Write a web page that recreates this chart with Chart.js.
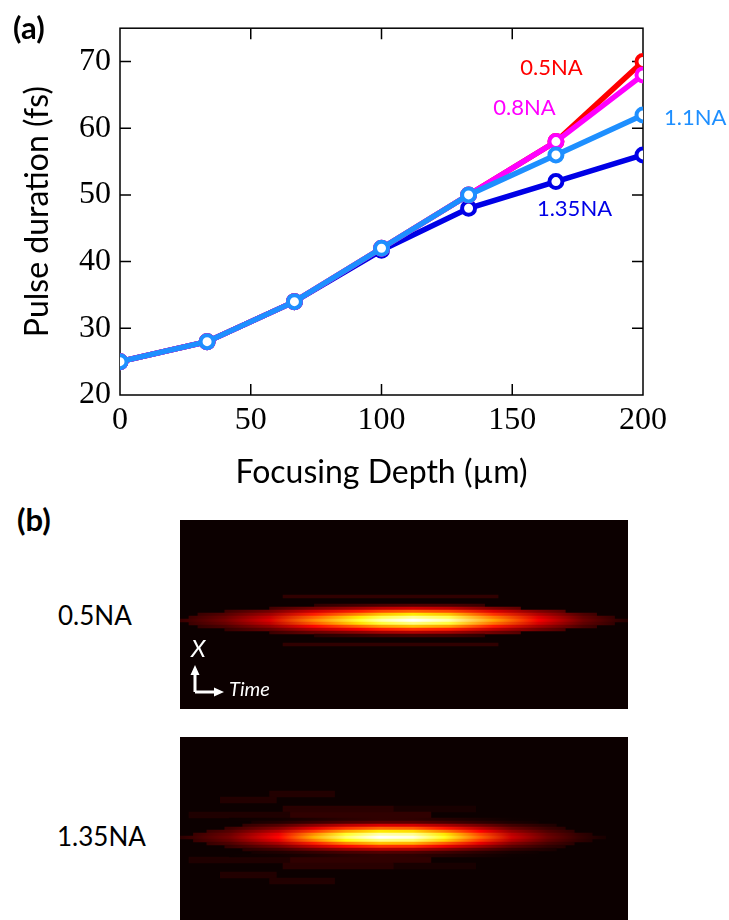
<!DOCTYPE html>
<html>
<head>
<meta charset="utf-8">
<script src="https://cdn.jsdelivr.net/npm/chart.js@4.4.1/dist/chart.umd.min.js"></script>
<style>
html, body { margin: 0; padding: 0; background: #fff; }
#page { position: relative; width: 729px; height: 920px; overflow: hidden; font-family: Lato, 'Open Sans', sans-serif; }
canvas { position: absolute; }
.lbl { position: absolute; color: #000; white-space: nowrap; line-height: 1; }
</style>
</head>
<body>
<div id="page">
  <canvas id="depthChart" width="729" height="492" style="left:0;top:0"></canvas>
  <canvas id="pulse05" width="448" height="189" style="left:180px;top:520px"></canvas>
  <canvas id="pulse135" width="448" height="183" style="left:180px;top:737px"></canvas>
  <div class="lbl" style="left:13px;top:12px;font-size:31px;font-weight:bold">(a)</div>
  <div class="lbl" style="left:17px;top:504px;font-size:31px;font-weight:bold">(b)</div>
  <div class="lbl" style="left:58px;top:602px;font-size:26px">0.5NA</div>
  <div class="lbl" style="left:57px;top:823px;font-size:26px">1.35NA</div>
</div>
<script>
// --- Panel (a): pulse duration vs focusing depth ---
const depths = [0, 33.3, 66.7, 100, 133.3, 166.7, 200];
const na05 = [25, 28, 34, 42, 50, 58, 70];
const na08 = [25, 28, 34, 42, 50, 58, 68];
const na11 = [25, 28, 34, 42, 50, 56, 62];
const na135 = [25, 28, 34, 41.7, 48, 52, 56];
const xTicks = [0, 50, 100, 150, 200];
const yTicks = [20, 30, 40, 50, 60, 70];

const naNames = ['0.5NA', '0.8NA', '1.1NA', '1.35NA'];
const naColors = ['#ff0000', '#ff00ff', '#1e8fff', '#0000e6'];
const naSeries = [na05, na08, na11, na135];
const naOrder = [3, 2, 1, 4]; // 1.35NA underneath, 1.1NA on top
const naLabelX = [165, 154.7, 220, 173.8];
const naLabelY = [69, 63, 61.6, 47.9];

// --- Panel (b): pulse intensity maps (3 px rows, offsets from pulse centre) ---
const rows05 = [-5, -4, -3, -2, -1, 0, 1, 2, 3, 4, 5];
const peak05 = [0.12, 0.3, 0.52, 0.72, 0.9, 1.0, 0.88, 0.66, 0.45, 0.26, 0.1];
const start05 = [0.3, 0.2, 0.1, 0.04, 0.02, 0, 0.02, 0.04, 0.1, 0.2, 0.3];
const end05 = [0.68, 0.76, 0.86, 0.93, 0.97, 1, 0.97, 0.93, 0.86, 0.76, 0.68];
const lobeRows05 = [-8, 8];
const lobeStart05 = [0.23, 0.23];
const lobeEnd05 = [0.71, 0.71];
const lobePeak05 = [0.07, 0.07];
const profPos05 = [0, 0.1, 0.2, 0.3, 0.4, 0.45, 0.52, 0.6, 0.7, 0.8, 0.9, 1];
const profVal05 = [0.08, 0.17, 0.32, 0.58, 0.8, 0.92, 1.0, 0.92, 0.62, 0.36, 0.16, 0.05];

const rows135 = [-6, -5, -4, -3, -2, -1, 0, 1, 2, 3, 4, 5, 6];
const peak135 = [0.07, 0.13, 0.32, 0.52, 0.72, 0.92, 1.0, 0.88, 0.66, 0.45, 0.26, 0.12, 0.07];
const start135 = [0.11, 0.16, 0.14, 0.1, 0.06, 0.03, 0, 0.03, 0.06, 0.1, 0.14, 0.16, 0.11];
const end135 = [0.8, 0.8, 0.84, 0.86, 0.88, 0.92, 0.95, 0.92, 0.88, 0.86, 0.84, 0.8, 0.8];
const lobeRows135 = [-15, -14, -13, -12, -10, -10, -9, -9, -8, -8, -7, -7,
    7, 7, 8, 8, 9, 9, 10, 10, 12, 13, 14, 15];
const lobeStart135 = [0.2, 0.2, 0.09, 0.09, 0.23, 0.476, 0.23, 0.476, 0.02, 0.245, 0.02, 0.245,
    0.02, 0.245, 0.02, 0.245, 0.23, 0.476, 0.23, 0.476, 0.09, 0.09, 0.2, 0.2];
const lobeEnd135 = [0.345, 0.345, 0.215, 0.215, 0.476, 0.66, 0.476, 0.66, 0.245, 0.56, 0.245, 0.56,
    0.245, 0.56, 0.245, 0.56, 0.476, 0.66, 0.476, 0.66, 0.215, 0.215, 0.345, 0.345];
const lobePeak135 = [0.05, 0.05, 0.05, 0.05, 0.06, 0.035, 0.06, 0.035, 0.045, 0.07, 0.045, 0.07,
    0.045, 0.07, 0.045, 0.07, 0.06, 0.035, 0.06, 0.035, 0.05, 0.05, 0.05, 0.05];
const profPos135 = [0, 0.11, 0.22, 0.3, 0.37, 0.445, 0.52, 0.59, 0.67, 0.74, 0.82, 0.89, 0.94, 1];
const profVal135 = [0.06, 0.17, 0.38, 0.64, 0.86, 1.0, 0.97, 0.78, 0.52, 0.3, 0.16, 0.08, 0.04, 0.02];

const rowLabels05 = [];
for (let k = -33; k <= 29; k++) rowLabels05.push(String(k));
const rowLabels135 = [];
for (let k = -33; k <= 27; k++) rowLabels135.push(String(k));

const BG_LEVEL = 0.018;
const SANS = "Lato, 'Open Sans', sans-serif";

// "hot" colour map
function hot(v) {
    v = Math.max(BG_LEVEL, Math.min(1, v));
    const r = Math.min(1, v / 0.375);
    const g = Math.max(0, Math.min(1, (v - 0.375) / 0.375));
    const b = Math.max(0, Math.min(1, (v - 0.75) / 0.25));
    return `rgb(${Math.round(r * 255)},${Math.round(g * 255)},${Math.round(b * 255)})`;
}

// Frame with inward ticks on all four sides
const framePlugin = {
    id: 'frame',
    beforeDatasetsDraw(chart) {
        const { ctx, chartArea: a, scales: { x, y } } = chart;
        ctx.save();
        ctx.strokeStyle = '#000';
        ctx.lineWidth = 1.5;
        ctx.strokeRect(a.left, a.top, a.right - a.left, a.bottom - a.top);
        ctx.beginPath();
        xTicks.slice(1, -1).forEach(v => {
            const px = x.getPixelForValue(v);
            ctx.moveTo(px, a.bottom); ctx.lineTo(px, a.bottom - 11);
            ctx.moveTo(px, a.top); ctx.lineTo(px, a.top + 11);
        });
        yTicks.slice(1).forEach(v => {
            const py = y.getPixelForValue(v);
            ctx.moveTo(a.left, py); ctx.lineTo(a.left + 11, py);
            ctx.moveTo(a.right, py); ctx.lineTo(a.right - 11, py);
        });
        ctx.stroke();
        ctx.restore();
    }
};

// Series names next to the curves
const naLabelPlugin = {
    id: 'naLabels',
    afterDatasetsDraw(chart) {
        const { ctx, scales: { x, y } } = chart;
        ctx.save();
        ctx.font = `22px ${SANS}`;
        ctx.textAlign = 'center';
        ctx.textBaseline = 'middle';
        naNames.forEach((name, i) => {
            ctx.fillStyle = naColors[i];
            ctx.fillText(name, x.getPixelForValue(naLabelX[i]), y.getPixelForValue(naLabelY[i]));
        });
        ctx.restore();
    }
};

new Chart(document.getElementById('depthChart'), {
    type: 'line',
    data: {
        datasets: naSeries.map((vals, i) => ({
            label: naNames[i],
            data: depths.map((d, j) => ({ x: d, y: vals[j] })),
            borderColor: naColors[i],
            backgroundColor: '#fff',
            borderWidth: 5.5,
            pointRadius: 6.5,
            pointBorderWidth: 4,
            pointBorderColor: naColors[i],
            pointBackgroundColor: '#fff',
            tension: 0,
            order: naOrder[i]
        }))
    },
    options: {
        responsive: false,
        animation: false,
        layout: { padding: { top: 27, right: 86, left: 0, bottom: 0 } },
        plugins: { legend: { display: false }, tooltip: { enabled: false } },
        scales: {
            x: {
                type: 'linear', min: 0, max: 200,
                grid: { display: false, drawTicks: false },
                border: { display: false },
                ticks: { stepSize: 50, padding: 6, color: '#000', font: { family: 'Liberation Serif', size: 32 }, maxRotation: 0 },
                title: { display: true, text: 'Focusing Depth (µm)', color: '#000', font: { family: SANS, size: 32 }, padding: { top: 0, bottom: 0 } },
                afterFit(scale) { scale.height = 97; }
            },
            y: {
                type: 'linear', min: 20, max: 75,
                grid: { display: false, drawTicks: false },
                border: { display: false },
                ticks: { stepSize: 10, includeBounds: false, padding: 9, color: '#000', font: { family: 'Liberation Serif', size: 32 },
                    callback: v => (yTicks.includes(v) ? String(v) : '') },
                title: { display: true, text: 'Pulse duration (fs)', color: '#000', font: { family: SANS, size: 32 }, padding: { top: 18, bottom: 0 } },
                afterFit(scale) { scale.width = 120; }
            }
        }
    },
    plugins: [framePlugin, naLabelPlugin]
});

// --- Helper for the intensity maps ---
function buildRowData(labels, rows, starts, ends) {
    return labels.map(k => {
        const i = rows.indexOf(+k);
        return i < 0 ? null : [starts[i], ends[i]];
    });
}

// Spread lobes over as many datasets as needed so no row holds two spans in one dataset
function buildLobeDatasets(labels, rows, starts, ends, peaks) {
    const slots = [];
    rows.forEach((r, i) => {
        const idx = labels.indexOf(String(r));
        let slot = slots.find(s => s.data[idx] === null);
        if (!slot) {
            slot = { data: labels.map(() => null), colors: labels.map(() => hot(0)) };
            slots.push(slot);
        }
        slot.data[idx] = [starts[i], ends[i]];
        slot.colors[idx] = hot(peaks[i]);
    });
    return slots.map(s => ({
        data: s.data,
        backgroundColor: s.colors,
        borderWidth: 0,
        grouped: false,
        barPercentage: 1,
        categoryPercentage: 1,
        order: 1
    }));
}

function renderPulse(canvasId, labels, rows, peaks, starts, ends, lobes, profPos, profVal, overlay) {
    const bg = hot(0);
    const mainSet = {
        data: buildRowData(labels, rows, starts, ends),
        borderWidth: 0,
        grouped: false,
        barPercentage: 1,
        categoryPercentage: 1,
        order: 0,
        backgroundColor: c => {
            const chart = c.chart;
            const xs = chart.scales.x;
            if (!xs || !chart.chartArea || c.dataIndex === undefined) return bg;
            const i = rows.indexOf(+labels[c.dataIndex]);
            if (i < 0) return bg;
            const g = chart.ctx.createLinearGradient(xs.getPixelForValue(0), 0, xs.getPixelForValue(1), 0);
            profPos.forEach((p, j) => g.addColorStop(p, hot(peaks[i] * profVal[j])));
            return g;
        }
    };
    const backdrop = {
        id: 'backdrop',
        beforeDraw(chart) {
            const { ctx, chartArea: a } = chart;
            ctx.save();
            ctx.fillStyle = bg;
            ctx.fillRect(a.left, a.top, a.right - a.left, a.bottom - a.top);
            ctx.restore();
        }
    };
    const plugins = [backdrop];
    if (overlay) plugins.push(overlay);
    new Chart(document.getElementById(canvasId), {
        type: 'bar',
        data: { labels, datasets: [...lobes, mainSet] },
        options: {
            indexAxis: 'y',
            responsive: false,
            animation: false,
            layout: { padding: 0 },
            plugins: { legend: { display: false }, tooltip: { enabled: false } },
            scales: {
                x: { type: 'linear', min: 0, max: 1, display: false },
                y: { type: 'category', display: false }
            }
        },
        plugins
    });
}

// X / Time axes marker in the first map
const axesMarker = {
    id: 'axesMarker',
    afterDraw(chart) {
        const ctx = chart.ctx;
        ctx.save();
        ctx.fillStyle = '#fff';
        ctx.strokeStyle = '#fff';
        ctx.lineWidth = 3;
        ctx.beginPath();
        ctx.moveTo(15, 172); ctx.lineTo(15, 153);
        ctx.moveTo(15, 172); ctx.lineTo(36, 172);
        ctx.stroke();
        ctx.beginPath();
        ctx.moveTo(15, 145); ctx.lineTo(10.5, 155); ctx.lineTo(19.5, 155); ctx.closePath();
        ctx.moveTo(44, 172); ctx.lineTo(34, 167.5); ctx.lineTo(34, 176.5); ctx.closePath();
        ctx.fill();
        ctx.textBaseline = 'middle';
        ctx.font = `italic 24px ${SANS}`;
        ctx.fillText('X', 11, 129);
        ctx.font = `italic 20px ${SANS}`;
        ctx.fillText('Time', 49, 170);
        ctx.restore();
    }
};

renderPulse('pulse05', rowLabels05, rows05, peak05, start05, end05,
    buildLobeDatasets(rowLabels05, lobeRows05, lobeStart05, lobeEnd05, lobePeak05),
    profPos05, profVal05, axesMarker);
renderPulse('pulse135', rowLabels135, rows135, peak135, start135, end135,
    buildLobeDatasets(rowLabels135, lobeRows135, lobeStart135, lobeEnd135, lobePeak135),
    profPos135, profVal135, null);
</script>
</body>
</html>
